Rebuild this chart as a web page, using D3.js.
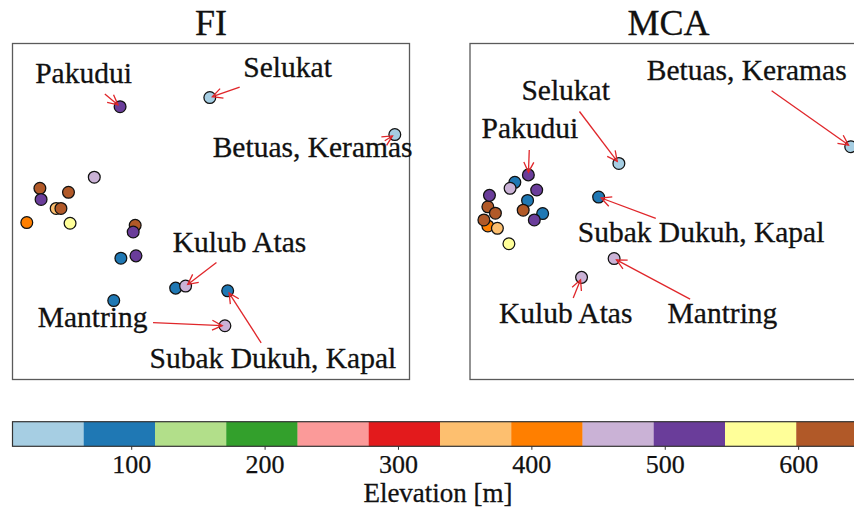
<!DOCTYPE html>
<html><head><meta charset="utf-8">
<script src="https://cdn.jsdelivr.net/npm/d3@7"></script>
<style>
body{margin:0;background:#fff;}
text{font-family:"Liberation Serif","Times New Roman",serif;fill:#111;}
</style>
</head><body><svg id="c" width="854" height="507"></svg>
<script>
// ---------- data ----------
const siteNames = ["Selukat","Betuas, Keramas","Subak Dukuh, Kapal","","","","Kulub Atas","Mantring","","","","","","","","","Pakudui","","",""];
const elevation = [11,35,75,88,96,110,455,470,480,400,360,570,610,625,640,652,500,515,525,535];
const fiX  = [49.7,96.3,54.2,27.3,41.1,25.5,43.6,53.5,20.6,3.6,11.0,14.5,6.9,14.1,12.2,30.9,27.1,7.2,30.4,31.1];
const fiY  = [83.9,72.9,26.4,36.1,27.2,23.5,27.8,16.0,60.2,46.7,50.9,46.5,56.9,55.7,50.9,45.9,81.2,53.6,43.9,36.8];
const mcaX = [37.5,95.9,32.4,11.3,14.5,18.3,28.1,36.3,10.1,4.5,6.9,9.8,4.5,6.4,3.5,13.4,14.7,4.9,16.8,16.2];
const mcaY = [64.3,69.3,54.3,58.7,53.3,49.4,30.4,36.0,56.9,45.7,45.0,40.4,51.4,49.5,47.5,50.4,60.9,54.8,56.4,47.5];

const annLabels = ["Pakudui","Selukat","Betuas, Keramas","Kulub Atas","Mantring","Subak Dukuh, Kapal"];
const annFiX  = [17.9,69.3,75.6,57.2,20.2,65.6];
const annFiY  = [91.3,93.1,69.3,41.1,18.7,6.5];
const annMcaX = [15.1,24.1,69.7,24.1,63.6,58.2];
const annMcaY = [74.9,86.2,92.2,19.8,19.8,43.9];
// arrow start point inside the label box (fraction of box), matplotlib "relpos"
const annFiRel  = [[0.5,0.5],[0.5,0.5],[0.84,0.25],[0.5,0.5],[0.5,0.5],[0.5,0.5]];
const annMcaRel = [[0.5,0.5],[0.5,0.5],[0.5,0.5],[0.5,0.5],[0.5,0.5],[0.5,0.5]];

const panelTitles = ["FI","MCA"];
const colorbarTicks = [100,200,300,400,500,600];
const colorbarLabel = "Elevation [m]";
const pairedColors = ["#a6cee3","#1f78b4","#b2df8a","#33a02c","#fb9a99","#e31a1c","#fdbf6f","#ff7f00","#cab2d6","#6a3d9a","#ffff99","#b15928"];

// ---------- layout ----------
const svg = d3.select("#c");
const panelW = 397, panelH = 336, panelTop = 43.5;
const panelLeft = [12.5, 470];
const ext = d3.extent(elevation);
const color = d3.scaleQuantize().domain(ext).range(pairedColors);
const fs = 29.5;

const panels = [
  {title: panelTitles[0], xs: fiX, ys: fiY, ax: annFiX, ay: annFiY, rel: annFiRel},
  {title: panelTitles[1], xs: mcaX, ys: mcaY, ax: annMcaX, ay: annMcaY, rel: annMcaRel}
];

panels.forEach((p, i) => {
  const x = d3.scaleLinear().domain([0,100]).range([panelLeft[i], panelLeft[i]+panelW]);
  const y = d3.scaleLinear().domain([0,100]).range([panelTop+panelH, panelTop]);
  const g = svg.append("g");
  g.append("rect").attr("x", x(0)).attr("y", y(100)).attr("width", panelW).attr("height", panelH)
    .attr("fill","none").attr("stroke","#5a5a5a").attr("stroke-width",1.3);
  g.append("text").attr("x", (x(0)+x(100))/2).attr("y", 35).attr("text-anchor","middle")
    .attr("font-size", 36).attr("stroke","#111").attr("stroke-width",0.3).text(p.title);

  g.selectAll("circle").data(elevation).join("circle")
    .attr("cx", (d,k) => x(p.xs[k])).attr("cy", (d,k) => y(p.ys[k]))
    .attr("r", 5.9).attr("fill", d => color(d)).attr("stroke","#111").attr("stroke-width",1.25);

  annLabels.forEach((lab, k) => {
    const si = siteNames.indexOf(lab);
    const px = x(p.xs[si]), py = y(p.ys[si]);
    const base = y(p.ay[k]) + 0.35*fs;
    const t = g.append("text").attr("x", x(p.ax[k])).attr("y", base)
      .attr("text-anchor","middle").attr("font-size", fs)
      .attr("stroke","#111").attr("stroke-width",0.3).text(lab);
    const w = t.node().getComputedTextLength();
    const pad = 2.75;
    const bx0 = x(p.ax[k]) - w/2 - pad, bx1 = x(p.ax[k]) + w/2 + pad;
    const by0 = base - 0.683*fs - pad, by1 = base + 0.217*fs + pad;
    const sx0 = bx0 + p.rel[k][0]*(bx1-bx0), sy0 = by0 + p.rel[k][1]*(by1-by0);
    const dx = px - sx0, dy = py - sy0;
    // clip where the path leaves the padded box
    let tt = 1;
    const cand = [];
    if (dx > 0) cand.push((bx1 - sx0)/dx); else if (dx < 0) cand.push((bx0 - sx0)/dx);
    if (dy > 0) cand.push((by1 - sy0)/dy); else if (dy < 0) cand.push((by0 - sy0)/dy);
    tt = Math.min(...cand);
    if (!(tt < 1)) tt = 0; // point inside the box: no clipping
    let sx = sx0 + dx*tt, sy = sy0 + dy*tt;
    const len = Math.hypot(px - sx, py - sy);
    const ux = (px - sx)/len, uy = (py - sy)/len;
    sx += ux*2.7; sy += uy*2.7;
    const ex = px - ux*2.7, ey = py - uy*2.7;
    const ag = g.append("g").attr("stroke","#e0262a").attr("stroke-width",1.3).attr("fill","none");
    ag.append("line").attr("x1", sx).attr("y1", sy).attr("x2", ex).attr("y2", ey);
    const hl = 10, hw = 5;
    const hx = ex - ux*hl, hy = ey - uy*hl;
    ag.append("path").attr("d",
      `M${hx - uy*hw},${hy + ux*hw}L${ex},${ey}L${hx + uy*hw},${hy - ux*hw}`);
  });
});

// ---------- colorbar ----------
const cbX0 = 12.5, cbW = 855, cbY = 421.7, cbH = 24.6;
const cx = d3.scaleLinear().domain(ext).range([cbX0, cbX0+cbW]);
const cb = svg.append("g");
const step = (ext[1]-ext[0]) / pairedColors.length;
cb.selectAll("rect.bin").data(pairedColors).join("rect").attr("class","bin")
  .attr("x", (d,i) => cx(ext[0] + i*step)).attr("y", cbY)
  .attr("width", (d,i) => cx(ext[0] + (i+1)*step) - cx(ext[0] + i*step) + 0.3)
  .attr("height", cbH).attr("fill", d => d);
cb.append("rect").attr("x", cbX0).attr("y", cbY).attr("width", cbW).attr("height", cbH)
  .attr("fill","none").attr("stroke","#333").attr("stroke-width",1.2);
const axis = d3.axisBottom(cx).tickValues(colorbarTicks).tickSize(3.5).tickPadding(5).tickFormat(d3.format("d"));
const axg = cb.append("g").attr("transform", `translate(0,${cbY+cbH})`).call(axis);
axg.select(".domain").remove();
axg.selectAll(".tick line").attr("stroke","#333").attr("stroke-width",1);
axg.selectAll(".tick text").attr("font-size", 26).attr("font-family","Liberation Serif, serif")
  .attr("fill","#111").attr("stroke","#111").attr("stroke-width",0.25).attr("dy","0.71em");
cb.append("text").attr("x", cbX0 + cbW/2 - 2).attr("y", 501.5).attr("text-anchor","middle")
  .attr("font-size", 27).attr("stroke","#111").attr("stroke-width",0.3).text(colorbarLabel);
</script>
</body></html>
